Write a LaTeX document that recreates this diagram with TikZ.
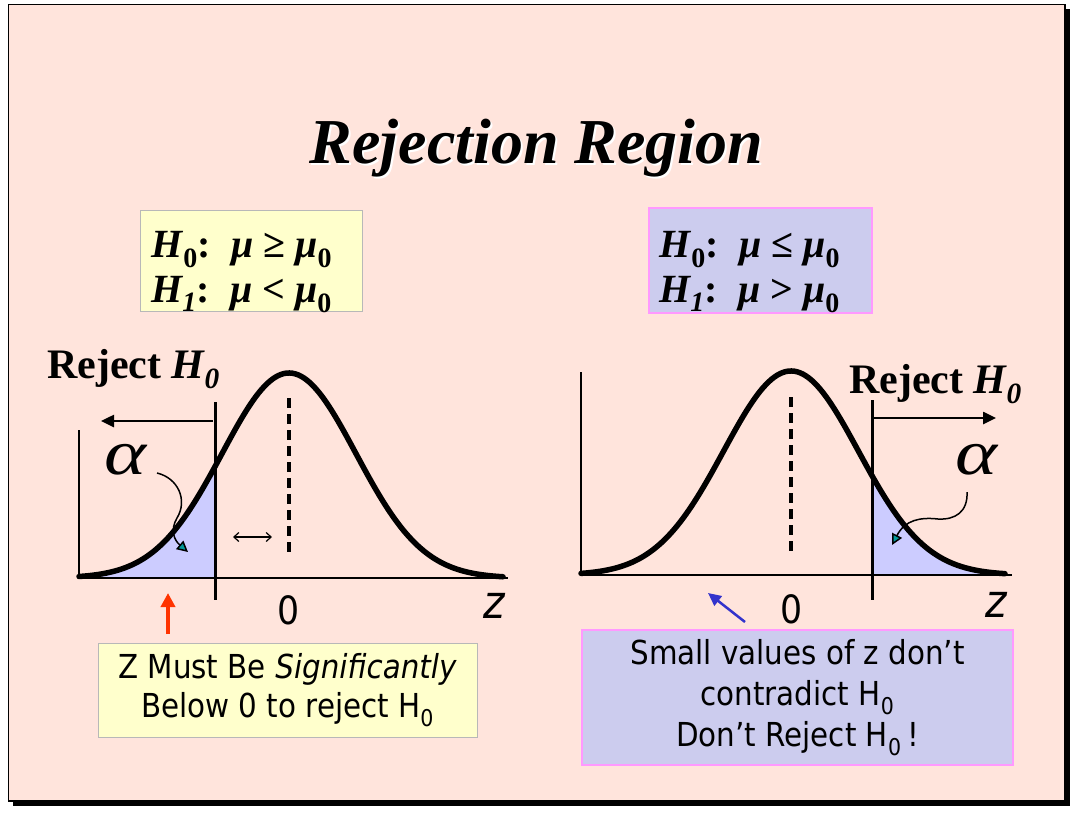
\documentclass[tikz,border=0pt]{standalone}
\usepackage{fontspec}
\setmainfont{Liberation Serif}
\newfontfamily\tah[FakeStretch=0.89]{DejaVu Sans}
\newfontfamily\alf[FakeStretch=1.25]{Liberation Serif}
\usetikzlibrary{arrows.meta}
\definecolor{bgpink}{HTML}{FFE4DC}
\definecolor{lightyel}{HTML}{FFFFCC}
\definecolor{graybd}{HTML}{B8B8B8}
\definecolor{lav}{HTML}{CCCCEE}
\definecolor{pinkbd}{HTML}{FF99FF}
\definecolor{tailblue}{HTML}{CCCCFF}
\definecolor{tealc}{HTML}{009999}
\definecolor{redc}{HTML}{FF3300}
\definecolor{bluec}{HTML}{3333CC}
\tikzset{
  bell/.style={line width=5.5pt, line join=round, line cap=round},
  axisline/.style={line width=2pt},
  crit/.style={line width=3pt},
  zeroline/.style={line width=3.5pt, dash pattern=on 10pt off 6pt},
  tailfill/.style={fill=tailblue},
  ybox/.style={draw=graybd, fill=lightyel, line width=1pt, inner sep=0pt},
  pbox/.style={draw=pinkbd, fill=lav, line width=1.5pt, inner sep=0pt},
  rejarr/.style={line width=2.5pt, -{Triangle[length=13pt,width=12pt]}},
  alphaarr/.style={line width=1.5pt, -{Triangle[length=11pt,width=11pt,fill=tealc]}},
  tiny2/.style={line width=1.2pt, {Straight Barb[length=5pt,width=9pt]}-{Straight Barb[length=5pt,width=9pt]}},
  redarr/.style={draw=redc, line width=3.5pt, -{Triangle[length=14pt,width=14pt]}},
  bluearr/.style={draw=bluec, line width=2.5pt, -{Triangle[length=13pt,width=12pt]}},
  txt/.style={inner sep=0pt},
  hyp/.style={txt, anchor=base west, font=\fontsize{40}{40}\selectfont\bfseries},
  rejtxt/.style={txt, anchor=base west, font=\fontsize{42}{42}\selectfont\bfseries},
  sans/.style={txt, font=\tah\fontsize{33}{39}\selectfont, align=center},
  axlbl/.style={txt, anchor=base, font=\tah\fontsize{39}{39}\selectfont},
  zlbl/.style={txt, anchor=base, font=\tah\fontsize{46}{46}\selectfont\itshape},
  alph/.style={txt, font=\alf\fontsize{64}{64}\selectfont\itshape},
}
\begin{document}
\begin{tikzpicture}[x=1pt,y=-1pt]
\useasboundingbox (0,0) rectangle (1070,814);
\fill[white] (0,0) rectangle (1070,814);
% frame with shadow
\fill[black] (13,9) rectangle (1070,806);
\filldraw[fill=bgpink, draw=black, line width=1.5pt] (8.5,4.5) rectangle (1065,801);

% title
\node[txt, anchor=base, white, font=\fontsize{64}{64}\selectfont\bfseries\itshape] (titleshadow) at (538.5,165) {Rejection Region};
\node[txt, anchor=base, font=\fontsize{64}{64}\selectfont\bfseries\itshape] (title) at (536.5,163) {Rejection Region};

% hypothesis boxes
\node[ybox, minimum width=222pt, minimum height=101pt] (hL) at (251,260.5) {};
\node[hyp] (hL1) at (151,257) {\textit{H}\textsubscript{0}:~~\textit{μ}~≥~\textit{μ}\textsubscript{0}};
\node[hyp] (hL2) at (151,302) {\textit{H\textsubscript{1}}:~~\textit{μ}~<~\textit{μ}\textsubscript{0}};
\node[pbox, minimum width=223pt, minimum height=105pt] (hR) at (760.5,260.5) {};
\node[hyp] (hR1) at (659,257) {\textit{H}\textsubscript{0}:~~\textit{μ}~≤~\textit{μ}\textsubscript{0}};
\node[hyp] (hR2) at (659,302) {\textit{H\textsubscript{1}}:~~\textit{μ}~>~\textit{μ}\textsubscript{0}};

% ---------- left graph ----------
\fill[tailfill] plot[domain=79:215,samples=80,smooth] (\x,{578-205*exp(-0.5*((\x-289)/67)^2)}) -- (215,578) -- (79,578) -- cycle;
\coordinate (Lax0) at (79,578);
\coordinate (Laxtop) at (79,430);
\coordinate (Laxend) at (508,578);
\draw[axisline] (Laxtop) -- (Lax0) -- (Laxend);
\draw[bell] plot[domain=79:503,samples=150,smooth] (\x,{578-205*exp(-0.5*((\x-289)/67)^2)});
\coordinate (Lc1) at (215,402);
\coordinate (Lc2) at (215,600);
\draw[crit] (Lc1) -- (Lc2);
\coordinate (Lz1) at (289,398);
\coordinate (Lz2) at (289,553);
\draw[zeroline] (Lz1) -- (Lz2);
\node[rejtxt] (rejL) at (47,378) {Reject \textit{H\textsubscript{0}}};
\coordinate (LrA) at (213,421);
\coordinate (LrB) at (101,421);
\draw[rejarr] (LrA) -- (LrB);
\node[alph] (alphaL) at (125,460) {α};
\coordinate (LaS) at (157,473);
\coordinate (LaE) at (188,552);
\draw[alphaarr] (LaS) .. controls (178,478) and (188,500) .. (177,518) .. controls (170,530) and (174,540) .. (LaE);
\coordinate (Ld1) at (233,537);
\coordinate (Ld2) at (272,537);
\draw[tiny2] (Ld1) -- (Ld2);
\node[axlbl] (zeroL) at (289,624) {0};
\node[zlbl] (zL) at (494,618) {z};
\coordinate (Lred1) at (168,634);
\coordinate (Lred2) at (168,593);
\draw[redarr] (Lred1) -- (Lred2);

% ---------- right graph ----------
\fill[tailfill] plot[domain=872:1005,samples=80,smooth] (\x,{575-204*exp(-0.5*((\x-791)/67.5)^2)}) -- (1005,575) -- (872,575) -- cycle;
\coordinate (Rax0) at (581,575);
\coordinate (Raxtop) at (581,372);
\coordinate (Raxend) at (1012,575);
\draw[axisline] (Raxtop) -- (Rax0) -- (Raxend);
\draw[bell] plot[domain=581:1005,samples=150,smooth] (\x,{575-204*exp(-0.5*((\x-791)/67.5)^2)});
\coordinate (Rc1) at (872,400);
\coordinate (Rc2) at (872,600);
\draw[crit] (Rc1) -- (Rc2);
\coordinate (Rz1) at (791,397);
\coordinate (Rz2) at (791,552);
\draw[zeroline] (Rz1) -- (Rz2);
\node[rejtxt] (rejR) at (849,393) {Reject \textit{H\textsubscript{0}}};
\coordinate (RrA) at (874,418);
\coordinate (RrB) at (996,418);
\draw[rejarr] (RrA) -- (RrB);
\node[alph] (alphaR) at (976,460) {α};
\coordinate (RaS) at (967,492);
\coordinate (RaE) at (892,545);
\draw[alphaarr] (RaS) .. controls (968,512) and (955,520) .. (938,519) .. controls (920,517) and (905,520) .. (RaE);
\node[axlbl] (zeroR) at (792,623) {0};
\node[zlbl] (zR) at (996,617) {z};
\coordinate (Rb1) at (745,622);
\coordinate (Rb2) at (708,593);
\draw[bluearr] (Rb1) -- (Rb2);

% ---------- bottom boxes ----------
\node[ybox, minimum width=379pt, minimum height=94pt] (noteL) at (287.5,690) {};
\node[sans] (noteLt) at (noteL.center) {Z Must Be \textit{Significantly}\\Below 0 to reject H\textsubscript{0}};
\node[pbox, minimum width=431pt, minimum height=135pt] (noteR) at (797.5,697.5) {};
\node[sans, font=\tah\fontsize{33}{41}\selectfont] (noteRt) at (noteR.center) {Small values of z don’t\\contradict H\textsubscript{0}\\Don’t Reject H\textsubscript{0}\,!};
\end{tikzpicture}
\end{document}
